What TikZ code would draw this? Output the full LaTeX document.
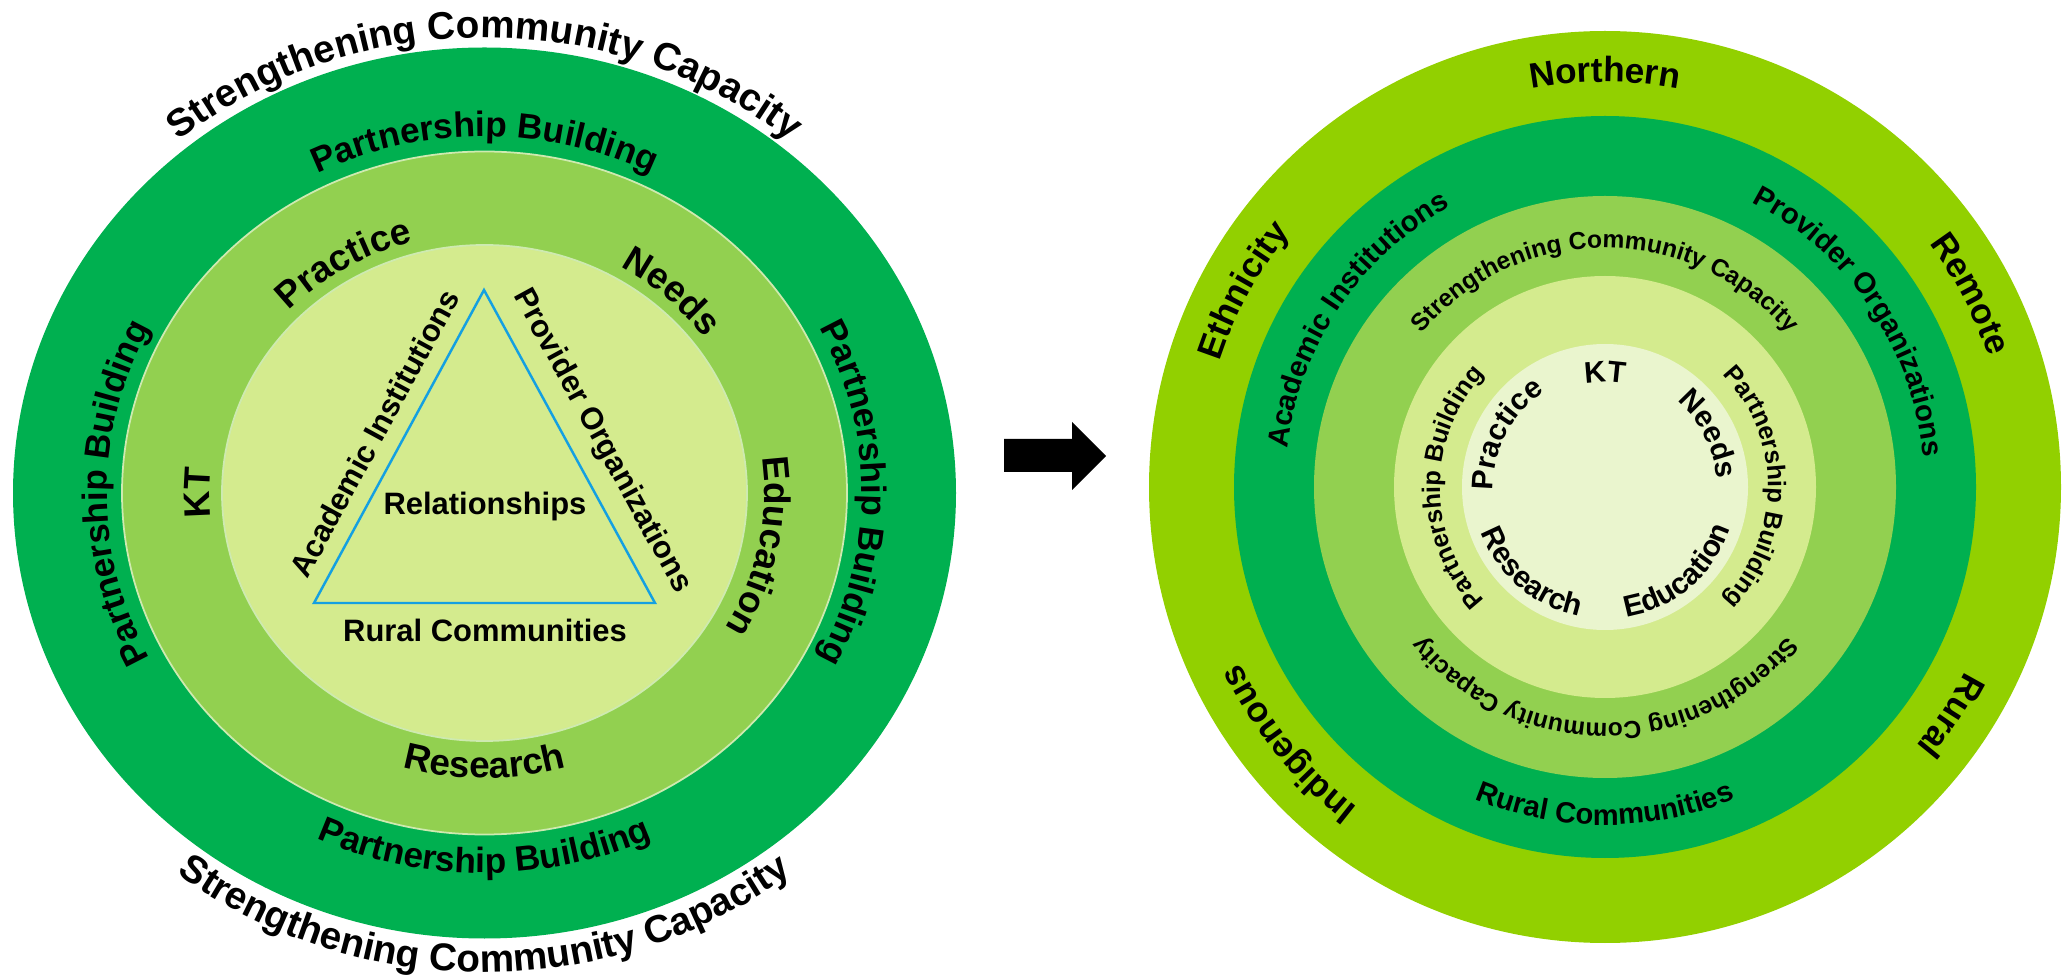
\documentclass[tikz,border=0pt]{standalone}
\usepackage{fontspec}
\setmainfont{Liberation Sans}
\usetikzlibrary{calc,decorations.text}

\definecolor{ringdark}{RGB}{0,176,80}
\definecolor{ringmid}{RGB}{146,208,80}
\definecolor{ringlight}{RGB}{212,235,142}
\definecolor{ringpale}{RGB}{234,245,206}
\definecolor{ringlime}{RGB}{146,208,0}
\definecolor{triblue}{RGB}{20,160,225}

% text on an arc: #1 centre, #2 mid angle, #3/#4 radii, #5 font size, #6 text
% clockwise: letters stand outward
\newcommand{\cwtext}[6]{%
  \path[decorate, decoration={text along path, text align=center,
      text={|\bfseries\fontsize{#5}{#5}\selectfont|#6}}]
    ($(#1)+({#3*cos(#2+85)},{#4*sin(#2+85)})$)
    arc[start angle=#2+85, end angle=#2-85, x radius=#3, y radius=#4];}
% anticlockwise: letters stand inward
\newcommand{\ccwtext}[6]{%
  \path[decorate, decoration={text along path, text align=center,
      text={|\bfseries\fontsize{#5}{#5}\selectfont|#6}}]
    ($(#1)+({#3*cos(#2-85)},{#4*sin(#2-85)})$)
    arc[start angle=#2-85, end angle=#2+85, x radius=#3, y radius=#4];}

\tikzset{
  ringline/.style={draw=white!55!ringmid, line width=0.5pt},
  trilabel/.style={text=black, font=\bfseries\fontsize{8.8}{10}\selectfont}
}

\begin{document}
\begin{tikzpicture}
\useasboundingbox (0,0) rectangle (20.66,9.78);

% first model: rings with the triangle
\coordinate (L) at (4.845,4.85);
\fill[ringdark] (L) ellipse[x radius=4.715, y radius=4.455];
\filldraw[fill=ringmid, ringline] (L) ellipse[x radius=3.625, y radius=3.415];
\filldraw[fill=ringlight, ringline] (L) ellipse[x radius=2.625, y radius=2.48];

\cwtext{L}{90}{4.815}{4.555}{11}{Strengthening Community Capacity}
\ccwtext{L}{270}{5.055}{4.795}{11}{Strengthening Community Capacity}
\cwtext{L}{90}{3.775}{3.565}{10}{Partnership Building}
\ccwtext{L}{270}{4.01}{3.80}{10}{Partnership Building}
\cwtext{L}{180}{3.775}{3.565}{10}{Partnership Building}
\cwtext{L}{0}{3.775}{3.565}{10}{Partnership Building}
\cwtext{L}{121.5}{2.745}{2.60}{10.5}{Practice}
\cwtext{L}{47}{2.745}{2.60}{10.5}{Needs}
\cwtext{L}{180}{2.745}{2.60}{10.5}{KT}
\cwtext{L}{-11}{2.80}{2.65}{10.5}{Education}
\ccwtext{L}{270}{2.995}{2.85}{10.5}{Research}

\coordinate (apex) at (4.84,6.88);
\coordinate (bl) at (3.14,3.75);
\coordinate (br) at (6.55,3.75);
\draw[triblue, line width=0.7pt] (bl) -- node[sloped, above=1pt, trilabel] {Academic Institutions} (apex)
  -- node[sloped, above=1pt, trilabel, pos=0.53] {Provider Organizations} (br) -- cycle;
\node[trilabel] (rel) at (4.85,4.71) {Relationships};
\node[trilabel] (rural) at (4.85,3.48) {Rural Communities};

% arrow between the two models
\fill (10.04,5.39) -- (10.72,5.39) -- (10.72,5.56) -- (11.06,5.22) -- (10.72,4.88) -- (10.72,5.06) -- (10.04,5.06) -- cycle;

% second model: five rings
\coordinate (R) at (16.05,4.91);
\fill[ringlime] (R) circle[radius=4.56];
\fill[ringdark] (R) circle[radius=3.71];
\fill[ringmid] (R) circle[radius=2.91];
\fill[ringlight] (R) circle[radius=2.11];
\fill[ringpale] (R) circle[radius=1.43];

\cwtext{R}{90}{4.05}{4.05}{10}{Northern}
\cwtext{R}{151.5}{4.05}{4.05}{10}{Ethnicity}
\cwtext{R}{27.8}{4.05}{4.05}{10}{Remote}
\cwtext{R}{-33.5}{4.05}{4.05}{10}{Rural}
\cwtext{R}{219}{4.05}{4.05}{10}{Indigenous}

\cwtext{R}{146}{3.2}{3.2}{8.3}{Academic Institutions}
\cwtext{R}{34}{3.2}{3.2}{8.3}{Provider Organizations}
\ccwtext{R}{270}{3.38}{3.38}{8.3}{Rural Communities}

\cwtext{R}{90}{2.39}{2.39}{7}{Strengthening Community Capacity}
\cwtext{R}{270}{2.36}{2.36}{7}{Strengthening Community Capacity}

\cwtext{R}{180}{1.65}{1.65}{7.2}{Partnership Building}
\cwtext{R}{0}{1.63}{1.63}{7.2}{Partnership Building}

\cwtext{R}{90}{1.05}{1.05}{8.5}{KT}
\cwtext{R}{152}{1.12}{1.12}{8.5}{Practice}
\cwtext{R}{27}{1.12}{1.12}{8.5}{Needs}
\ccwtext{R}{229.5}{1.32}{1.32}{8.5}{Research}
\ccwtext{R}{310.5}{1.32}{1.32}{8.5}{Education}
\end{tikzpicture}
\end{document}
